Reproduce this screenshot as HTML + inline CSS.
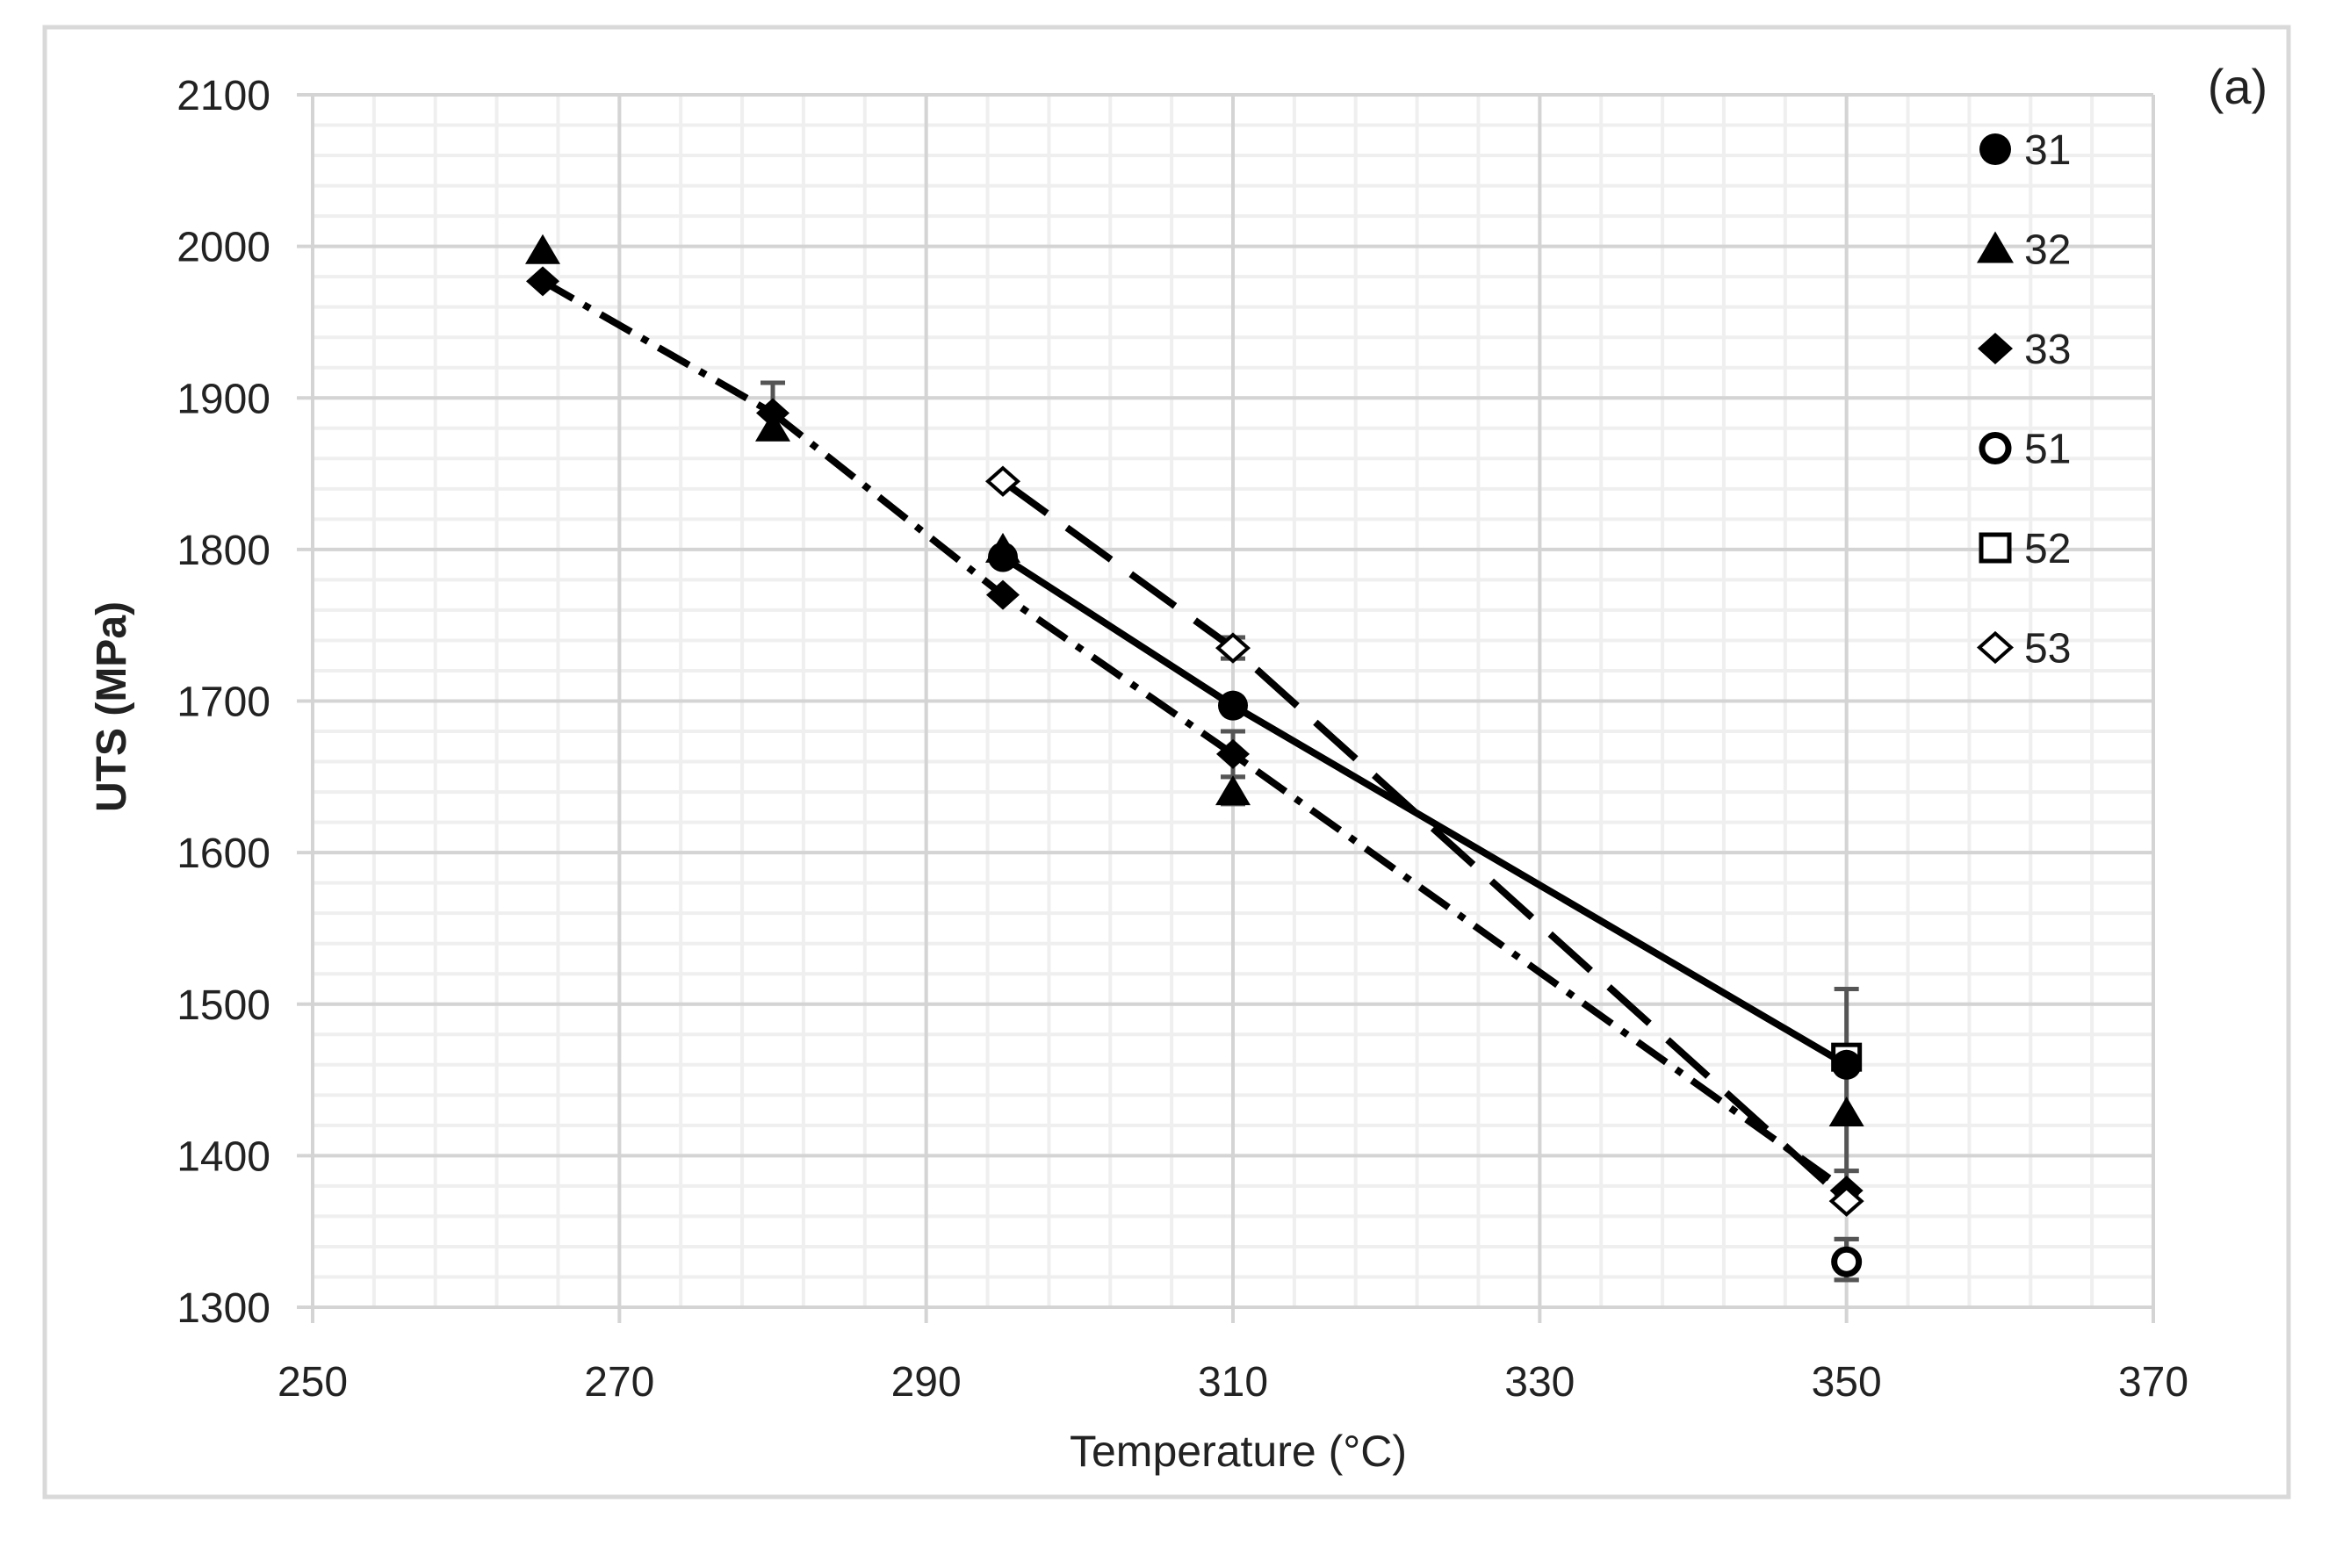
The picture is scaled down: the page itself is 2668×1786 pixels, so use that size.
<!DOCTYPE html>
<html><head><meta charset="utf-8"><style>
html,body{margin:0;padding:0;background:#fff;}
svg text{font-family:"Liberation Sans",sans-serif;fill:#222;}
</style></head><body>
<svg id="chart" width="2668" height="1781" viewBox="0 0 2668 1781" xmlns="http://www.w3.org/2000/svg">
<rect x="51" y="31" width="2555" height="1674" fill="#fff" stroke="#d9d9d9" stroke-width="5"/>
<g id="grid"></g>
<g id="ticks"></g>
<text x="1410" y="1670" font-size="50" text-anchor="middle">Temperature (°C)</text>
<text x="0" y="0" font-size="48" font-weight="bold" text-anchor="middle" transform="translate(143,805) rotate(-90)">UTS (MPa)</text>
<text x="2548" y="118" font-size="56" text-anchor="middle">(a)</text>
<g id="series"></g>
<g id="legend"></g>
</svg>
<script>
const xTicks=[250,270,290,310,330,350,370];
const yTicks=[1300,1400,1500,1600,1700,1800,1900,2000,2100];
const t31=[295,310,350], v31=[1795,1697,1460];
const t32=[265,280,295,310,350], v32=[1997,1880,1800,1640,1428];
const t33=[265,280,295,310,350], v33=[1977,1890,1770,1665,1377];
const t51=[350], v51=[1330];
const t52=[350], v52=[1465];
const t53=[295,310,350], v53=[1845,1735,1370];
const errT=[280,310,310,310,350,350,350,350];
const errLo=[1875,1728,1650,1632,1390,1318,1318,1375];
const errHi=[1910,1742,1680,1650,1510,1345,1345,1390];
const legendNames=["31","32","33","51","52","53"];
const legendShapes=["circle","triangle","diamond","ocircle","square","odiamond"];

const NS="http://www.w3.org/2000/svg";
const X0=356,X1=2452,Y0=1489,Y1=108;
function sx(t){return X0+(t-250)/(120)*(X1-X0);}
function sy(v){return Y0-(v-1300)/(800)*(Y0-Y1);}
function mk(tag,attrs,parent){const e=document.createElementNS(NS,tag);for(const k in attrs)e.setAttribute(k,attrs[k]);parent.appendChild(e);return e;}
const grid=document.getElementById('grid'),ticks=document.getElementById('ticks'),ser=document.getElementById('series'),leg=document.getElementById('legend');
for(let t=250;t<=370;t+=4){const l=mk('line',{x1:sx(t),x2:sx(t),y1:sy(2100),y2:sy(1300),stroke:'#efefef','stroke-width':4},grid);

}
for(let v=1300;v<=2100;v+=20){const l=mk('line',{x1:sx(250),x2:sx(370),y1:sy(v),y2:sy(v),stroke:'#efefef','stroke-width':4},grid);

}
xTicks.forEach(t=>{const l=mk('line',{x1:sx(t),x2:sx(t),y1:sy(2100),y2:sy(1300)+18,stroke:'#d4d4d4','stroke-width':4},grid);


const tx=mk('text',{x:sx(t),y:1590,'font-size':48,'text-anchor':'middle'},ticks);tx.textContent=t;

});
yTicks.forEach(v=>{const l=mk('line',{x1:sx(250)-18,x2:sx(370),y1:sy(v),y2:sy(v),stroke:'#d4d4d4','stroke-width':4},grid);


const tx=mk('text',{x:308,y:sy(v)+17,'font-size':48,'text-anchor':'end'},ticks);tx.textContent=v;

});
errT.forEach((t,i)=>{const g=mk('g',{stroke:'#555','stroke-width':5},ser);


mk('line',{x1:sx(t),x2:sx(t),y1:sy(errLo[i]),y2:sy(errHi[i])},g);
mk('line',{x1:sx(t)-14,x2:sx(t)+14,y1:sy(errLo[i]),y2:sy(errLo[i])},g);
mk('line',{x1:sx(t)-14,x2:sx(t)+14,y1:sy(errHi[i]),y2:sy(errHi[i])},g);});
function line(ts,vs,dash,name){const p=mk('polyline',{points:ts.map((t,i)=>sx(t)+','+sy(vs[i])).join(' '),fill:'none',stroke:'#000','stroke-width':8,'stroke-dasharray':dash},ser);

}
line(t31,v31,'none','line-31');
line(t33,v33,'40 14 8 14','line-33');
line(t53,v53,'62 28','line-53');
function marker(shape,x,y,parent,r){r=r||17;let e;
if(shape==='circle')e=mk('circle',{cx:x,cy:y,r:r,fill:'#000'},parent);
else if(shape==='ocircle')e=mk('circle',{cx:x,cy:y,r:r-3,fill:'#fff',stroke:'#000','stroke-width':7},parent);
else if(shape==='triangle')e=mk('polygon',{points:`${x},${y-r-2} ${x+r+3},${y+r-2} ${x-r-3},${y+r-2}`,fill:'#000'},parent);
else if(shape==='diamond')e=mk('polygon',{points:`${x},${y-r} ${x+r+2},${y} ${x},${y+r} ${x-r-2},${y}`,fill:'#000'},parent);
else if(shape==='odiamond')e=mk('polygon',{points:`${x},${y-r+2} ${x+r},${y} ${x},${y+r-2} ${x-r},${y}`,fill:'#fff',stroke:'#000','stroke-width':4},parent);
else e=mk('rect',{x:x-r+2,y:y-r+3,width:2*r-4,height:2*r-6,fill:'#fff',stroke:'#000','stroke-width':5},parent);
return e;}
function pts(ts,vs,shape,name){ts.forEach((t,i)=>{const e=marker(shape,sx(t),sy(vs[i]),ser);

});}
pts(t52,v52,'square','marker-52');
pts(t32,v32,'triangle','marker-32');
pts(t31,v31,'circle','marker-31');
pts(t33,v33,'diamond','marker-33');
pts(t53,v53,'odiamond','marker-53');
pts(t51,v51,'ocircle','marker-51');
legendNames.forEach((n,i)=>{const y=170+i*113.5;
const g=mk('g',{},leg);


marker(legendShapes[i],2272,y,g,18);
const tx=mk('text',{x:2305,y:y+17,'font-size':48},g);tx.textContent=n;});
</script>
</body></html>
